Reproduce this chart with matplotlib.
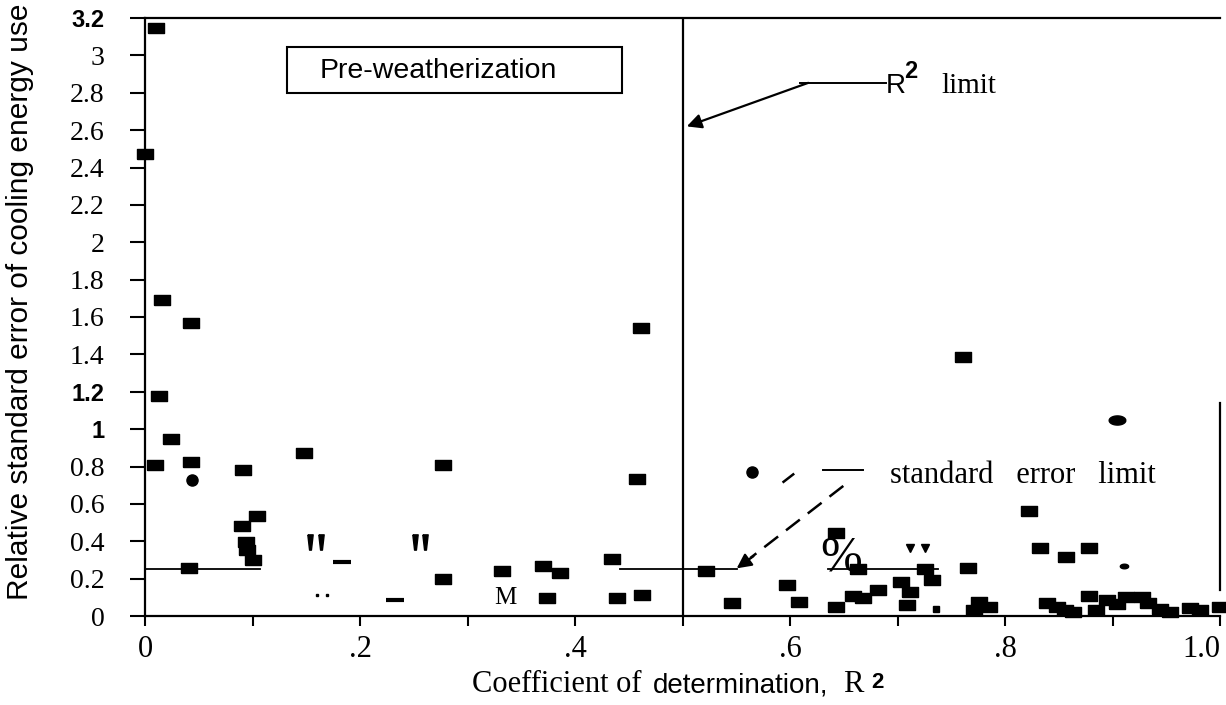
import matplotlib
matplotlib.use("Agg")
import matplotlib.pyplot as plt
import numpy as np
from matplotlib.patches import Rectangle

SERIF = "Liberation Serif"
SANS = "Liberation Sans"

# ---------------- data ----------------
sq_x = [0.010, 0.000, 0.016, 0.0425, 0.013, 0.024, 0.009, 0.043, 0.0915, 0.148,
        0.104, 0.0905, 0.094, 0.095, 0.100, 0.041, 0.2775, 0.277, 0.332, 0.3705,
        0.386, 0.3737, 0.434, 0.4388, 0.462, 0.458, 0.461, 0.761, 0.522, 0.546,
        0.597, 0.608, 0.643, 0.659, 0.668, 0.682, 0.6635, 0.703, 0.712, 0.7085,
        0.7256, 0.732, 0.643, 0.8226, 0.8326, 0.857, 0.8784, 0.766, 0.776, 0.771,
        0.785, 0.839, 0.848, 0.8635, 0.856, 0.8784, 0.885, 0.895, 0.904, 0.913,
        0.927, 0.933, 0.944, 0.9535, 0.972, 0.981, 1.000]
sq_y = [3.145, 2.472, 1.691, 1.566, 1.175, 0.945, 0.808, 0.826, 0.783, 0.872,
        0.535, 0.481, 0.398, 0.353, 0.300, 0.255, 0.808, 0.200, 0.243, 0.268,
        0.232, 0.095, 0.303, 0.095, 0.112, 0.731, 1.540, 1.385, 0.242, 0.068,
        0.166, 0.077, 0.046, 0.107, 0.095, 0.139, 0.250, 0.184, 0.130, 0.059,
        0.250, 0.193, 0.445, 0.563, 0.362, 0.317, 0.362, 0.255, 0.077, 0.032,
        0.050, 0.071, 0.050, 0.023, 0.032, 0.107, 0.032, 0.086, 0.064, 0.103,
        0.103, 0.071, 0.036, 0.023, 0.041, 0.032, 0.050]

small_sq_x = [0.736]
small_sq_y = [0.039]

circ_x = [0.044, 0.565]
circ_y = [0.729, 0.772]

ell_x = [0.904]
ell_y = [1.049]
dot_x = [0.9107]
dot_y = [0.268]

drop_x = [0.1535, 0.1634, 0.251, 0.260]
drop_y = [0.398, 0.398, 0.398, 0.398]
tri_x = [0.7116, 0.7256]
tri_y = [0.362, 0.362]
speck_x = [0.1597, 0.1690]
speck_y = [0.112, 0.112]
dash_x = [0.1835, 0.233]
dash_y = [0.290, 0.085]

r2_limit = 0.5
se_limit = 0.25
se_seg_start = [0.0, 0.442, 0.635]
se_seg_end = [0.107, 0.551, 0.738]

xticks = [0.0, 0.1, 0.2, 0.3, 0.4, 0.5, 0.6, 0.7, 0.8, 0.9, 1.0]
xticklabels = ["0", "", ".2", "", ".4", "", ".6", "", ".8", "", "1.0"]
yticks = [0.0, 0.2, 0.4, 0.6, 0.8, 1.0, 1.2, 1.4, 1.6, 1.8, 2.0, 2.2, 2.4, 2.6,
          2.8, 3.0, 3.2]
yticklabels = ["0", "0.2", "0.4", "0.6", "0.8", "1", "1.2", "1.4", "1.6", "1.8",
               "2", "2.2", "2.4", "2.6", "2.8", "3", "3.2"]

# ---------------- figure ----------------
W, H = 1226, 705
fig = plt.figure(figsize=(W / 100, H / 100), dpi=100)
ax = fig.add_axes([145 / W, 1 - 616 / H, (1220 - 145) / W, (616 - 18) / H])
ax.set_xlim(0, 1.0)
ax.set_ylim(0, 3.2)

rect_marker = [(-1, -0.65), (1, -0.65), (1, 0.65), (-1, 0.65), (-1, -0.65)]
t = np.linspace(0, 2 * np.pi, 40)
ell_marker = list(zip(np.cos(t), 0.55 * np.sin(t)))

ax.plot(sq_x, sq_y, ls="none", marker=rect_marker, ms=11.5, color="black",
        clip_on=False)
ax.plot(small_sq_x, small_sq_y, ls="none", marker="s", ms=4, color="black")
ax.plot(circ_x, circ_y, ls="none", marker="o", ms=8, color="black")
ax.plot(ell_x, ell_y, ls="none", marker=ell_marker, ms=12, color="black")
ax.plot(dot_x, dot_y, ls="none", marker=ell_marker, ms=6, color="black")
drop_marker = [(-0.35, 1), (0.35, 1), (0.12, -1), (-0.12, -1), (-0.35, 1)]
ax.plot(drop_x, drop_y, ls="none", marker=drop_marker, ms=11, color="black")
ax.plot(tri_x, tri_y, ls="none", marker="v", ms=6, color="black")
ax.plot(speck_x, speck_y, ls="none", marker="s", ms=2, color="black")
ax.plot(dash_x, dash_y, ls="none", marker="_", ms=13, mew=3, color="black")

# OCR-style glyphs present in the plot area
ax.text(0.3357, 0.096, "M", fontfamily=SERIF, fontsize=18, ha="center",
        va="center")
ax.text(0.648, 0.311, "%", fontfamily=SERIF, fontsize=36, ha="center",
        va="center")

# limits
ax.axvline(r2_limit, color="black", lw=1.6)
for xs, xe in zip(se_seg_start, se_seg_end):
    ax.plot([xs, xe], [se_limit, se_limit], color="black", lw=1.3)

# R^2 limit annotation
ax.plot([0.609, 0.689], [2.853, 2.853], color="black", lw=1.4)
ax.annotate("", xy=(r2_limit + 0.004, 2.62), xytext=(0.617, 2.853),
            arrowprops=dict(arrowstyle="-|>", color="black", lw=1.6,
                            mutation_scale=22, shrinkA=0, shrinkB=0))
ax.text(0.689, 2.80, "R", fontfamily=SANS, fontsize=20, ha="left", va="baseline")
ax.text(0.706, 2.88, "2", fontfamily=SANS, fontsize=17, ha="left",
        va="baseline", fontweight="bold")
ax.text(0.741, 2.80, "limit", fontfamily=SERIF, fontsize=21, ha="left",
        va="baseline")

# standard error limit annotation
ax.plot([0.631, 0.668], [0.78, 0.78], color="black", lw=1.4)
ax.plot([0.594, 0.603], [0.718, 0.758], color="black", lw=1.8)
ax.plot([0.6496, 0.563], [0.696, 0.31], color="black", lw=1.8,
        dashes=(7, 4))
ax.annotate("", xy=(0.5504, se_limit + 0.005), xytext=(0.566, 0.32),
            arrowprops=dict(arrowstyle="-|>", color="black", lw=1.6,
                            mutation_scale=22, shrinkA=0, shrinkB=0))
ax.text(0.693, 0.754, "standard   error   limit", fontfamily=SERIF,
        fontsize=22, ha="left", va="center")

# Pre-weatherization box
ax.add_patch(Rectangle((0.132, 2.80), 0.312, 0.246, fill=False,
                       edgecolor="black", lw=1.5))
ax.text(0.273, 2.915, "Pre-weatherization", fontfamily=SANS, fontsize=20.5,
        ha="center", va="center")

# spines / ticks
for s in ["left", "bottom", "top"]:
    ax.spines[s].set_linewidth(1.6)
ax.spines["right"].set_visible(False)
ax.plot([1.0, 1.0], [0.14, 1.14], color="black", lw=1.6, clip_on=False)

ax.set_xticks(xticks)
ax.set_xticklabels(xticklabels, fontfamily=SERIF, fontsize=22)
xl = ax.get_xticklabels()
xl[-1].set_horizontalalignment("right")
ax.set_yticks(yticks)
ax.set_yticklabels(yticklabels, fontfamily=SERIF, fontsize=20)
for lab in ax.get_yticklabels():
    if lab.get_text() in ("3.2", "1.2", "1"):
        lab.set_fontfamily(SANS)
        lab.set_fontweight("bold")
        lab.set_fontsize(17)
ax.tick_params(axis="y", direction="out", length=10.5, width=1.5, pad=18.5)
ax.tick_params(axis="x", direction="out", length=7, width=1.5, pad=7)

fig.text(20 / W, 1 - 302 / H, "Relative standard error of cooling energy use",
         rotation=90, fontfamily=SANS, fontsize=21.5, ha="center",
         va="center")

base = 1 - 692 / H
fig.text(472 / W, base, "Coefficient of", fontfamily=SERIF, fontsize=22,
         ha="left", va="baseline")
fig.text(653 / W, base, "determination,", fontfamily=SANS, fontsize=20,
         ha="left", va="baseline")
fig.text(843 / W, base, "R", fontfamily=SERIF, fontsize=22, ha="left",
         va="baseline")
fig.text(871 / W, 1 - 688 / H, "2", fontfamily=SANS, fontsize=16,
         fontweight="bold", ha="left", va="baseline")

fig.savefig("out.png", dpi=100)
